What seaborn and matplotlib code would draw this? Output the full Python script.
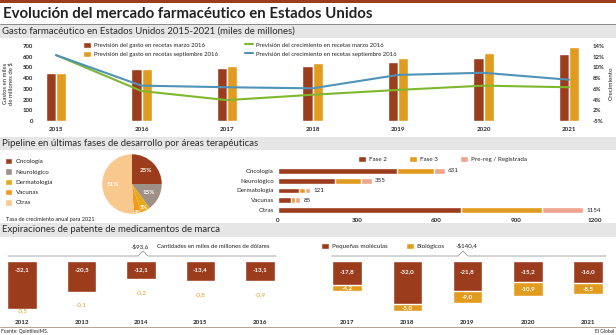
import numpy as np
import pandas as pd
import seaborn as sns
import matplotlib
matplotlib.use('Agg')
import matplotlib.pyplot as plt
from matplotlib.patches import Rectangle, Patch
from matplotlib.lines import Line2D

# ---------------- data ----------------
title = 'Evolución del mercado farmacéutico en Estados Unidos'
sec1 = 'Gasto farmacéutico en Estados Unidos 2015-2021 (miles de millones)'
sec2 = 'Pipeline en últimas fases de desarrollo por áreas terapéuticas'
sec3 = 'Expiraciones de patente de medicamentos de marca'

years1 = ['2015', '2016', '2017', '2018', '2019', '2020', '2021']
gasto_marzo = [450, 485, 495, 515, 550, 590, 625]
gasto_sept = [450, 485, 510, 540, 590, 635, 690]
crec_marzo = [12.3, 5.6, 3.9, 4.9, 5.8, 6.6, 6.3]
crec_sept = [12.3, 6.6, 6.3, 6.1, 8.6, 9.0, 7.7]
left_ticks = [0, 100, 200, 300, 400, 500, 600, 700]
right_ticks = [0, 2, 4, 6, 8, 10, 12, 14]
right_tick_labels = ['-5%', '2%', '4%', '6%', '8%', '10%', '12%', '14%']
series1 = ['Previsión del gasto en recetas marzo 2016',
           'Previsión del gasto en recetas septiembre 2016',
           'Previsión del crecimiento en recetas marzo 2016',
           'Previsión del crecimiento en recetas septiembre 2016']
ylabel1 = 'Gastos en miles\nde millones de $'
ylabel2 = 'Crecimiento'

areas = ['Oncología', 'Neurológico', 'Dermatología', 'Vacunas', 'Otras']
pie_pct = [25, 15, 5, 4, 51]
pie_note = 'Tasa de crecimiento anual para 2021'

pipe_cats = ['Oncología', 'Neurológico', 'Dermatología', 'Vacunas', 'Otras']
fase2 = [450, 214, 78, 50, 692]
fase3 = [141, 102, 24, 15, 308]
prereg = [40, 39, 19, 20, 154]
pipe_ticks = [0, 300, 600, 900, 1200]
phases = ['Fase 2', 'Fase 3', 'Pre-reg / Registrada']

years_a = ['2012', '2013', '2014', '2015', '2016']
peq_a = [-32.1, -20.5, -12.1, -13.4, -13.1]
bio_a = [-0.5, -0.1, -0.2, -0.8, -0.9]
years_b = ['2017', '2018', '2019', '2020', '2021']
peq_b = [-17.8, -32.0, -21.8, -15.2, -16.0]
bio_b = [-4.2, -5.0, -9.0, -10.9, -8.5]
total_labels = ['-$93,6', '-$140,4']
units_note = 'Cantidades en miles de millones de dólares'
types3 = ['Pequeñas moléculas', 'Biológicos']
source = 'Fuente: QuintilesIMS.'
brand = 'El Global'

# ---------------- style ----------------
BROWN = '#9b3c1d'
ORANGE = '#e19c1f'
GREEN = '#7db82e'
BLUE = '#4f93b8'
GRAYP = '#9f9187'
GOLD = '#e6aa18'
VAC = '#f29a1e'
PEACH = '#f8c88c'
PINK = '#eea48d'
TXT = '#222222'

sns.set_theme(style='white')
plt.rcParams['font.family'] = ['Lato', 'DejaVu Sans']
plt.rcParams['text.color'] = TXT

W, H = 616, 335
fig = plt.figure(figsize=(W / 100, H / 100), dpi=100)
fig.patch.set_facecolor('white')


def fx(x):
    return x / W


def fy(y):
    return 1 - y / H


def ax_px(x0, y0, x1, y1):
    a = fig.add_axes([x0 / W, 1 - y1 / H, (x1 - x0) / W, (y1 - y0) / H])
    a.set_facecolor('none')
    return a


def clean(a):
    for s in a.spines.values():
        s.set_visible(False)
    a.tick_params(length=0)
    a.set_xlabel('')
    a.set_ylabel('')


def band(y0, y1, text):
    fig.add_artist(Rectangle((0, fy(y1)), 1, (y1 - y0) / H, transform=fig.transFigure,
                             facecolor='#e6e6e6', edgecolor='none', zorder=0))
    fig.text(fx(2), fy((y0 + y1) / 2), text, fontsize=6.9, va='center', ha='left', color='#2a2a2a')


def comma(v):
    return f'{v:.1f}'.replace('.', ',')


# ---------------- header ----------------
fig.add_artist(Rectangle((0, fy(3)), 1, 3 / H, transform=fig.transFigure,
                         facecolor=BROWN, edgecolor='none'))
fig.text(fx(3), fy(13.5), title, fontsize=10.8, fontweight='bold', va='center', ha='left', color=TXT)
fig.add_artist(Line2D([0, 1], [fy(24), fy(24)], transform=fig.transFigure, color='#888888', lw=0.7))
band(25, 38, sec1)
band(137, 150, sec2)
band(223, 237, sec3)

# ---------------- chart 1 ----------------
ax1 = ax_px(36, 46, 590, 121)
df1 = pd.DataFrame({'year': years1 * 2,
                    'valor': gasto_marzo + gasto_sept,
                    'serie': [series1[0]] * len(years1) + [series1[1]] * len(years1)})
sns.barplot(data=df1, x='year', y='valor', hue='serie', palette=[BROWN, ORANGE],
            width=0.235, gap=0, saturation=1, errorbar=None, legend=False, ax=ax1)
ax1.set_ylim(0, 700)
ax1.set_yticks(left_ticks)
ax1.set_yticklabels([str(t) for t in left_ticks], fontsize=4.3, fontweight='bold')
ax1.set_xticks(range(len(years1)))
ax1.set_xticklabels(years1, fontsize=4.5, fontweight='bold')
clean(ax1)
ax1.tick_params(axis='x', pad=4)
ax1.tick_params(axis='y', pad=2)
ax1.set_ylabel(ylabel1, fontsize=4.3, linespacing=1.0)
ax1.yaxis.set_label_coords(-0.04, 0.5)

ax2 = ax1.twinx()
ax2.set_facecolor('none')
xpos = np.arange(len(years1))
sns.lineplot(x=xpos, y=crec_marzo, color=GREEN, lw=1.5, ax=ax2)
sns.lineplot(x=xpos, y=crec_sept, color=BLUE, lw=1.5, ax=ax2)
ax2.set_ylim(0, 14)
ax2.set_yticks(right_ticks)
ax2.set_yticklabels(right_tick_labels, fontsize=4.3, fontweight='bold')
clean(ax2)
ax2.tick_params(axis='y', pad=2)
ax2.set_ylabel(ylabel2, fontsize=4.5, rotation=90)
ax2.yaxis.set_label_coords(1.033, 0.5)
ax1.set_xlim(-0.234, 6.245)

h1 = [Patch(facecolor=BROWN), Patch(facecolor=ORANGE),
      Line2D([], [], color=GREEN, lw=1.5), Line2D([], [], color=BLUE, lw=1.5)]
fig.legend(h1, series1, loc='upper left', bbox_to_anchor=(fx(83), fy(42)), ncol=2,
           frameon=False, fontsize=4.3, handlelength=1.3, handleheight=1.1,
           handletextpad=0.5, columnspacing=4.6, labelspacing=0.5, borderpad=0, borderaxespad=0)

# ---------------- pie ----------------
axp = ax_px(102, 154, 162, 214)
wedges, _, autot = axp.pie(pie_pct, colors=[BROWN, GRAYP, GOLD, VAC, PEACH], startangle=90,
                           counterclock=False, autopct=lambda p: f'{p:.0f}%', pctdistance=0.65,
                           textprops=dict(color='white', fontsize=4.5, fontweight='bold'),
                           wedgeprops=dict(linewidth=0))
pct_dist = [0.65, 0.65, 0.88, 0.98, 0.65]
for w, t, d in zip(wedges, autot, pct_dist):
    ang = np.deg2rad((w.theta1 + w.theta2) / 2)
    t.set_position((d * np.cos(ang), d * np.sin(ang)))
autot[2].set_fontsize(4.1)
autot[3].set_fontsize(4.1)
axp.set_xlim(-1.01, 1.01)
axp.set_ylim(-1.01, 1.01)

hp = [Patch(facecolor=c) for c in [BROWN, GRAYP, GOLD, VAC, PEACH]]
fig.legend(hp, areas, loc='upper left', bbox_to_anchor=(fx(5), fy(158)), frameon=False,
           fontsize=4.5, handlelength=1.2, handleheight=1.2, handletextpad=0.5,
           labelspacing=0.62, borderpad=0, borderaxespad=0)
fig.text(fx(6), fy(220), pie_note, fontsize=4, va='center', ha='left')

# ---------------- pipeline bars ----------------
axh = ax_px(278, 166.1, 595, 214.9)
c2 = np.array(fase2)
c3 = c2 + np.array(fase3)
c4 = c3 + np.array(prereg)
dfp = pd.DataFrame({'cat': pipe_cats, 'f2': c2, 'f3': c3, 'tot': c4})
for col, colr in [('tot', PINK), ('f3', ORANGE), ('f2', BROWN)]:
    sns.barplot(data=dfp, x=col, y='cat', color=colr, orient='h', width=0.6,
                saturation=1, errorbar=None, ax=axh)
axh.set_xlim(0, 1200)
axh.set_ylim(4.5, -0.5)
axh.set_xticks(pipe_ticks)
axh.set_xticklabels([str(t) for t in pipe_ticks], fontsize=4.5, fontweight='bold')
axh.set_yticks(range(len(pipe_cats)))
axh.set_yticklabels(pipe_cats, fontsize=4.5)
clean(axh)
axh.tick_params(axis='x', pad=2)
axh.tick_params(axis='y', pad=3)
for i, v in enumerate(c4):
    axh.text(v + 12, i, str(int(v)), va='center', ha='left', fontsize=4.5)

hh = [Patch(facecolor=BROWN), Patch(facecolor=ORANGE), Patch(facecolor=PINK)]
fig.legend(hh, phases, loc='upper left', bbox_to_anchor=(fx(358), fy(155.5)), ncol=3,
           frameon=False, fontsize=4.5, handlelength=1.2, handleheight=1.2,
           handletextpad=0.5, columnspacing=3.6, borderpad=0, borderaxespad=0)

# ---------------- patent expirations ----------------
def expir(ax, years, peq, bio, ymin, lab_off, inside_bio):
    tot = [p + b for p, b in zip(peq, bio)]
    df = pd.DataFrame({'year': years, 'peq': peq, 'tot': tot})
    sns.barplot(data=df, x='year', y='tot', color=ORANGE, width=0.49, saturation=1,
                errorbar=None, ax=ax)
    sns.barplot(data=df, x='year', y='peq', color=BROWN, width=0.49, saturation=1,
                errorbar=None, ax=ax)
    ax.set_ylim(ymin, 0)
    ax.set_yticks([])
    ax.set_xticks(range(len(years)))
    ax.set_xticklabels(years, fontsize=4.5, fontweight='bold')
    clean(ax)
    ax.tick_params(axis='x', pad=2)
    for i, (p, b, t) in enumerate(zip(peq, bio, tot)):
        ax.text(i, lab_off, comma(p), ha='center', va='center', color='white',
                fontsize=4.5, fontweight='bold')
        if inside_bio:
            ax.text(i, p + b / 2, comma(b), ha='center', va='center', color='white',
                    fontsize=4.5, fontweight='bold')
        else:
            ax.text(i, max(t - 8.5, ymin + 4.3), comma(b), ha='center', va='center',
                    color=ORANGE, fontsize=4.5)


axa = ax_px(3, 261, 283.8, 317)
expir(axa, years_a, peq_a, bio_a, -37.3, -6, False)
axa.set_xlim(-0.32, 4.4)

axb = ax_px(316.9, 261, 612.1, 317)
expir(axb, years_b, peq_b, bio_b, -41.2, -8, True)
axb.set_xlim(-0.5, 4.4)


def brace(x0, x1, xm, y):
    xs = [x0, xm - 5, xm, xm + 5, x1]
    ys = [y, y, y - 5, y, y]
    fig.add_artist(Line2D([fx(v) for v in xs], [fy(v) for v in ys], transform=fig.transFigure,
                          color='#9a9a9a', lw=0.6))


brace(8, 276, 143, 256)
brace(332, 606, 463, 256)
fig.text(fx(140), fy(246), total_labels[0], fontsize=4.5, ha='center', va='center')
fig.text(fx(157), fy(246.5), units_note, fontsize=4.3, ha='left', va='center')
fig.text(fx(467), fy(245), total_labels[1], fontsize=4.5, ha='center', va='center')

h3 = [Patch(facecolor=BROWN), Patch(facecolor=ORANGE)]
fig.legend(h3, types3, loc='upper left', bbox_to_anchor=(fx(321), fy(243)), ncol=2,
           frameon=False, fontsize=4.5, handlelength=1.2, handleheight=1.2,
           handletextpad=0.5, columnspacing=3.0, borderpad=0, borderaxespad=0)

# ---------------- footer ----------------
fig.add_artist(Line2D([0, 1], [fy(327), fy(327)], transform=fig.transFigure,
                      color='#b09080', lw=0.6))
fig.text(fx(1), fy(331.5), source, fontsize=3.5, ha='left', va='center')
fig.text(fx(614), fy(331.5), brand, fontsize=3.5, ha='right', va='center')

fig.savefig('out.png', dpi=100, facecolor='white')
